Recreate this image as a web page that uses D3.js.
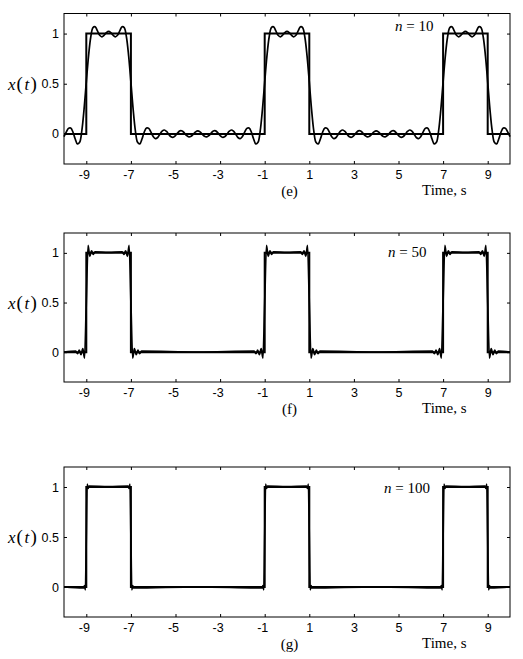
<!DOCTYPE html>
<html><head><meta charset="utf-8">
<script src="https://cdn.jsdelivr.net/npm/d3@7"></script>
<style>
body{margin:0;background:#fff}
.tick text{font-family:"Liberation Sans",Arial,sans-serif;font-size:12.5px;fill:#000}
.serif{font-family:"Liberation Serif","Times New Roman",serif;fill:#000}
</style>
</head><body>
<svg id="chart" width="523" height="659"></svg>
<script>
// axis ticks
const xTicks = [-9, -7, -5, -3, -1, 1, 3, 5, 7, 9];
const yTicks = [0, 0.5, 1];

// ideal pulse train x(t): level holds from each time until the next
const pulseTime = [-10, -9, -7, -1, 1, 7, 9, 10];
const pulseLevel = [0, 1, 0, 1, 0, 1, 0, 0];

const harmonics = [10, 50, 100];
const panelLabels = ["(e)", "(f)", "(g)"];

// partial sum, n = 10 (read every 0.1 s)
const time10 = [
  -10,-9.9,-9.8,-9.7,-9.6,-9.5,-9.4,-9.3,-9.2,-9.1,-9,-8.9,-8.8,-8.7,-8.6,-8.5,-8.4,-8.3,-8.2,-8.1,
  -8,-7.9,-7.8,-7.7,-7.6,-7.5,-7.4,-7.3,-7.2,-7.1,-7,-6.9,-6.8,-6.7,-6.6,-6.5,-6.4,-6.3,-6.2,-6.1,
  -6,-5.9,-5.8,-5.7,-5.6,-5.5,-5.4,-5.3,-5.2,-5.1,-5,-4.9,-4.8,-4.7,-4.6,-4.5,-4.4,-4.3,-4.2,-4.1,
  -4,-3.9,-3.8,-3.7,-3.6,-3.5,-3.4,-3.3,-3.2,-3.1,-3,-2.9,-2.8,-2.7,-2.6,-2.5,-2.4,-2.3,-2.2,-2.1,
  -2,-1.9,-1.8,-1.7,-1.6,-1.5,-1.4,-1.3,-1.2,-1.1,-1,-0.9,-0.8,-0.7,-0.6,-0.5,-0.4,-0.3,-0.2,-0.1,
  0,0.1,0.2,0.3,0.4,0.5,0.6,0.7,0.8,0.9,1,1.1,1.2,1.3,1.4,1.5,1.6,1.7,1.8,1.9,
  2,2.1,2.2,2.3,2.4,2.5,2.6,2.7,2.8,2.9,3,3.1,3.2,3.3,3.4,3.5,3.6,3.7,3.8,3.9,
  4,4.1,4.2,4.3,4.4,4.5,4.6,4.7,4.8,4.9,5,5.1,5.2,5.3,5.4,5.5,5.6,5.7,5.8,5.9,
  6,6.1,6.2,6.3,6.4,6.5,6.6,6.7,6.8,6.9,7,7.1,7.2,7.3,7.4,7.5,7.6,7.7,7.8,7.9,
  8,8.1,8.2,8.3,8.4,8.5,8.6,8.7,8.8,8.9,9,9.1,9.2,9.3,9.4,9.5,9.6,9.7,9.8,9.9,
  10
];
const sum10 = [
  -0.026,0.017,0.055,0.059,0.019,-0.049,-0.1,-0.084,0.033,0.247,0.516,0.775,0.966,1.06,1.067,1.026,0.983,0.968,0.984,1.01,1.022,
  1.01,0.984,0.968,0.983,1.026,1.067,1.06,0.966,0.775,0.516,0.247,0.033,-0.084,-0.1,-0.049,0.019,0.059,0.055,0.017,-0.026,
  -0.047,-0.036,-0.003,0.028,0.039,0.024,-0.005,-0.029,-0.033,-0.016,0.011,0.03,0.029,0.009,-0.016,-0.03,-0.024,-0.003,0.02,0.03,
  0.02,-0.003,-0.024,-0.03,-0.016,0.009,0.029,0.03,0.011,-0.016,-0.033,-0.029,-0.005,0.024,0.039,0.028,-0.003,-0.036,-0.047,-0.026,
  0.017,0.055,0.059,0.019,-0.049,-0.1,-0.084,0.033,0.247,0.516,0.775,0.966,1.06,1.067,1.026,0.983,0.968,0.984,1.01,1.022,
  1.01,0.984,0.968,0.983,1.026,1.067,1.06,0.966,0.775,0.516,0.247,0.033,-0.084,-0.1,-0.049,0.019,0.059,0.055,0.017,-0.026,
  -0.047,-0.036,-0.003,0.028,0.039,0.024,-0.005,-0.029,-0.033,-0.016,0.011,0.03,0.029,0.009,-0.016,-0.03,-0.024,-0.003,0.02,0.03,
  0.02,-0.003,-0.024,-0.03,-0.016,0.009,0.029,0.03,0.011,-0.016,-0.033,-0.029,-0.005,0.024,0.039,0.028,-0.003,-0.036,-0.047,-0.026,
  0.017,0.055,0.059,0.019,-0.049,-0.1,-0.084,0.033,0.247,0.516,0.775,0.966,1.06,1.067,1.026,0.983,0.968,0.984,1.01,1.022,
  1.01,0.984,0.968,0.983,1.026,1.067,1.06,0.966,0.775,0.516,0.247,0.033,-0.084,-0.1,-0.049,0.019,0.059,0.055,0.017,-0.026
];

// partial sum, n = 50 (ripple peaks near the edges and edge midpoints)
const time50 = [
  -10,-9.472,-9.393,-9.315,-9.236,-9.157,-9.079,-9,-8.921,-8.844,-8.765,-8.688,-8.61,-8,
  -7.39,-7.312,-7.235,-7.156,-7.079,-7,-6.921,-6.843,-6.764,-6.685,-6.607,-6.528,-4,
  -1.472,-1.393,-1.315,-1.236,-1.157,-1.079,-1,-0.921,-0.844,-0.765,-0.688,-0.61,0,
  0.61,0.688,0.765,0.844,0.921,1,1.079,1.157,1.236,1.315,1.393,1.472,4,
  6.528,6.607,6.685,6.764,6.843,6.921,7,7.079,7.156,7.235,7.312,7.39,8,
  8.61,8.688,8.765,8.844,8.921,9,9.079,9.157,9.236,9.315,9.393,9.472,10
];
const sum50 = [
  0,0.01,-0.015,0.02,-0.025,0.035,-0.06,0.5,1.075,0.965,1.02,0.985,1.01,1.005,
  1.01,0.985,1.02,0.965,1.075,0.5,-0.06,0.035,-0.025,0.02,-0.015,0.01,0,
  0.01,-0.015,0.02,-0.025,0.035,-0.06,0.5,1.075,0.965,1.02,0.985,1.01,1.005,
  1.01,0.985,1.02,0.965,1.075,0.5,-0.06,0.035,-0.025,0.02,-0.015,0.01,0,
  0.01,-0.015,0.02,-0.025,0.035,-0.06,0.5,1.075,0.965,1.02,0.985,1.01,1.005,
  1.01,0.985,1.02,0.965,1.075,0.5,-0.06,0.035,-0.025,0.02,-0.015,0.01,0
];

// partial sum, n = 100 (small corner spikes and edge midpoints)
const time100 = [
  -10,-9.12,-9.08,-9.04,-9,-8.96,-8.92,-8.88,-8,
  -7.12,-7.08,-7.04,-7,-6.96,-6.92,-6.88,-4,
  -1.12,-1.08,-1.04,-1,-0.96,-0.92,-0.88,0,
  0.88,0.92,0.96,1,1.04,1.08,1.12,4,
  6.88,6.92,6.96,7,7.04,7.08,7.12,8,
  8.88,8.92,8.96,9,9.04,9.08,9.12,10
];
const sum100 = [
  0,-0.01,0.015,-0.03,0.5,1.03,0.985,1.01,1.005,
  1.01,0.985,1.03,0.5,-0.03,0.015,-0.01,0,
  -0.01,0.015,-0.03,0.5,1.03,0.985,1.01,1.005,
  1.01,0.985,1.03,0.5,-0.03,0.015,-0.01,0,
  -0.01,0.015,-0.03,0.5,1.03,0.985,1.01,1.005,
  1.01,0.985,1.03,0.5,-0.03,0.015,-0.01,0
];

const sums = [
  {time: time10, val: sum10, curve: d3.curveCatmullRom},
  {time: time50, val: sum50, curve: d3.curveMonotoneX},
  {time: time100, val: sum100, curve: d3.curveMonotoneX}
];

const left = 64, right = 510;
const panels = [
  {top: 13.5, h: 150.5, nx: 395, ny: 31},
  {top: 233, h: 149, nx: 388, ny: 257},
  {top: 467, h: 150, nx: 384, ny: 493}
];

const svg = d3.select("#chart");
const x = d3.scaleLinear().domain([-10, 10]).range([left, right]);

panels.forEach((p, i) => {
  const bottom = p.top + p.h;
  const y = d3.scaleLinear().domain([-0.3, 1.2]).range([bottom, p.top]);
  const g = svg.append("g");

  // axes, ticks pointing inwards
  const xb = g.append("g").attr("transform", `translate(0,${bottom})`)
    .call(d3.axisBottom(x).tickValues(xTicks).tickSize(-3).tickPadding(6).tickFormat(d => d < 0 ? "-" + Math.abs(d) : d));
  xb.selectAll(".tick text").attr("dx", d => d < 0 ? -2.5 : 0);
  g.append("g").attr("transform", `translate(0,${p.top})`)
    .call(d3.axisTop(x).tickValues(xTicks).tickSize(-3).tickFormat(""));
  g.append("g").attr("transform", `translate(${left},0)`)
    .call(d3.axisLeft(y).tickValues(yTicks).tickSize(-3).tickPadding(5).tickFormat(d => d));
  g.append("g").attr("transform", `translate(${right},0)`)
    .call(d3.axisRight(y).tickValues(yTicks).tickSize(-3).tickFormat(""));
  g.selectAll(".domain").remove();
  g.selectAll(".tick line").attr("stroke", "#000");

  g.append("rect")
    .attr("x", left).attr("y", p.top)
    .attr("width", right - left).attr("height", p.h)
    .attr("fill", "none").attr("stroke", "#000").attr("stroke-width", 1);

  // ideal pulse train
  const pulse = d3.line().x(d => x(d[0])).y(d => y(d[1])).curve(d3.curveStepAfter);
  g.append("path")
    .attr("d", pulse(d3.zip(pulseTime, pulseLevel)))
    .attr("fill", "none").attr("stroke", "#000").attr("stroke-width", 2);

  // Fourier partial sum
  const s = sums[i];
  const approx = d3.line().x(d => x(d[0])).y(d => y(d[1])).curve(s.curve);
  g.append("path")
    .attr("d", approx(d3.zip(s.time, s.val)))
    .attr("fill", "none").attr("stroke", "#000").attr("stroke-width", 1.7)
    .attr("stroke-linejoin", "round");

  // y label x(t)
  const yl = g.append("text").attr("class", "serif")
    .attr("x", 8).attr("y", y(0.5) + 6);
  yl.append("tspan").attr("font-style", "italic").attr("font-size", 17).text("x");
  yl.append("tspan").attr("font-size", 19).attr("dx", 1).text("(");
  yl.append("tspan").attr("font-style", "italic").attr("font-size", 17).attr("dx", 1.5).text("t");
  yl.append("tspan").attr("font-size", 19).attr("dx", 1.5).text(")");

  // n = ...
  const nl = g.append("text").attr("class", "serif").attr("font-size", 15)
    .attr("x", p.nx).attr("y", p.ny);
  nl.append("tspan").attr("font-style", "italic").text("n");
  nl.append("tspan").text(" = " + harmonics[i]);

  g.append("text").attr("class", "serif").attr("font-size", 15)
    .attr("x", 422).attr("y", bottom + 31).text("Time, s");
  g.append("text").attr("class", "serif").attr("font-size", 15)
    .attr("text-anchor", "middle")
    .attr("x", 289.5).attr("y", bottom + 32).text(panelLabels[i]);
});
</script></body></html>
